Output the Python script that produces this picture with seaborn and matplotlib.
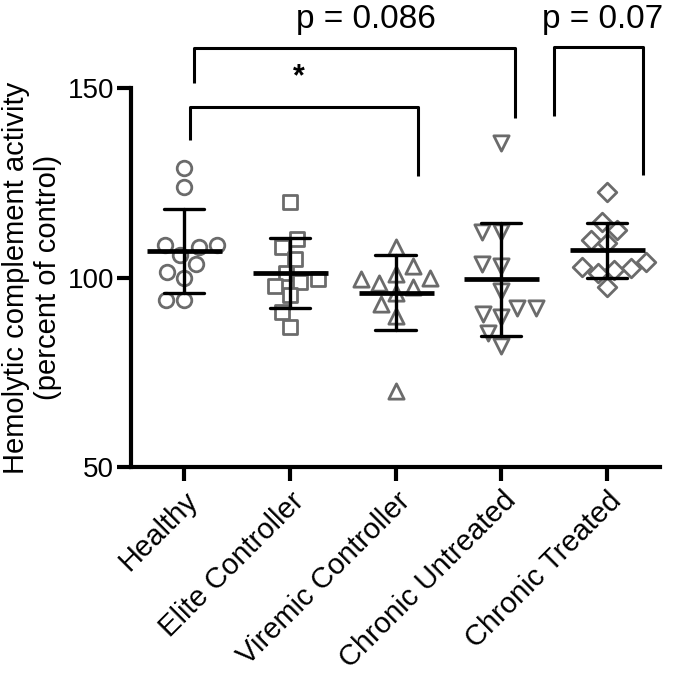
import pandas as pd
import numpy as np
import matplotlib
matplotlib.use("Agg")
import matplotlib.pyplot as plt
import seaborn as sns

# values
groups = ['Healthy', 'Elite Controller', 'Viremic Controller', 'Chronic Untreated', 'Chronic Treated']
healthy = [129, 124, 108.5, 108, 108.5, 106, 103.5, 101.5, 100, 94, 94]
elite = [120, 110.3, 108, 105, 101.3, 99.5, 97.8, 98.9, 95.4, 91, 87]
viremic = [108, 103, 101, 100, 99.5, 98.5, 97.5, 96, 93, 90, 70]
untreated = [135.5, 112, 112, 103.5, 103, 96.5, 92, 92, 90.5, 89.5, 85.5, 82]
treated = [122.6, 114.7, 112.5, 110, 109, 104.2, 102.4, 102.7, 101.1, 102, 97.6]
markers = ['o', 's', '^', 'v', 'D']
sizes = [10.5, 10, 11, 11, 9.5]

# significance brackets (category positions / y values)
br_left = [0.095, 0.063, 3.5]
br_right = [3.125, 2.21, 4.34]
br_top = [160.6, 145.1, 160.9]
br_left_end = [151.3, 136.3, 142.6]
br_right_end = [142.1, 126.8, 127.0]
br_text = ['p = 0.086', '*', 'p = 0.07']
br_text_x = [1.72, 1.09, 3.96]
br_text_y = [164.0, 149.0, 164.0]
br_text_size = [24, 22, 24]

rows = []
for g, vals in zip(groups, [healthy, elite, viremic, untreated, treated]):
    for v in vals:
        rows.append({'group': g, 'value': v})
df = pd.DataFrame(rows)

sns.set_style("ticks", {'axes.edgecolor': 'black', 'text.color': 'black',
                        'xtick.color': 'black', 'ytick.color': 'black',
                        'axes.labelcolor': 'black'})
plt.rcParams['font.family'] = ['Liberation Sans', 'DejaVu Sans']

fig = plt.figure(figsize=(7, 6.85), dpi=100)
ax = fig.add_axes([0.187, 0.318, 0.756, 0.5535])

for g, m, s in zip(groups, markers, sizes):
    sns.swarmplot(data=df[df['group'] == g], x='group', y='value', order=groups,
                  marker=m, size=s, color='white', edgecolor='#6b6b6b', linewidth=2,
                  ax=ax, zorder=2)

sns.pointplot(data=df, x='group', y='value', order=groups, errorbar='sd',
              capsize=0.38, color='black', linestyle='none', marker='_',
              markersize=54, markeredgewidth=3.4, err_kws={'linewidth': 2.4},
              ax=ax, zorder=5)

for i in range(len(br_text)):
    ax.plot([br_left[i], br_left[i], br_right[i], br_right[i]],
            [br_left_end[i], br_top[i], br_top[i], br_right_end[i]],
            color='black', lw=2.2, clip_on=False, solid_capstyle='butt')
    ax.text(br_text_x[i], br_text_y[i], br_text[i], ha='center', va='bottom',
            fontsize=br_text_size[i], fontweight='bold' if br_text[i] == '*' else 'normal')

ax.set_ylim(50, 150)
ax.set_xlim(-0.5, 4.5)
ax.set_yticks([50, 100, 150])
ax.set_xlabel('')
ax.set_ylabel('Hemolytic complement activity\n(percent of control)', fontsize=21, labelpad=4)
ax.set_xticks(range(len(groups)))
ax.set_xticklabels(groups, rotation=45, ha='right', rotation_mode='anchor', fontsize=21)
ax.tick_params(axis='y', labelsize=20, width=3, length=10, pad=2)
ax.tick_params(axis='x', width=3, length=10, pad=4)
for sp in ['left', 'bottom']:
    ax.spines[sp].set_linewidth(3)
sns.despine(ax=ax)

plt.savefig("out.png", dpi=100)
